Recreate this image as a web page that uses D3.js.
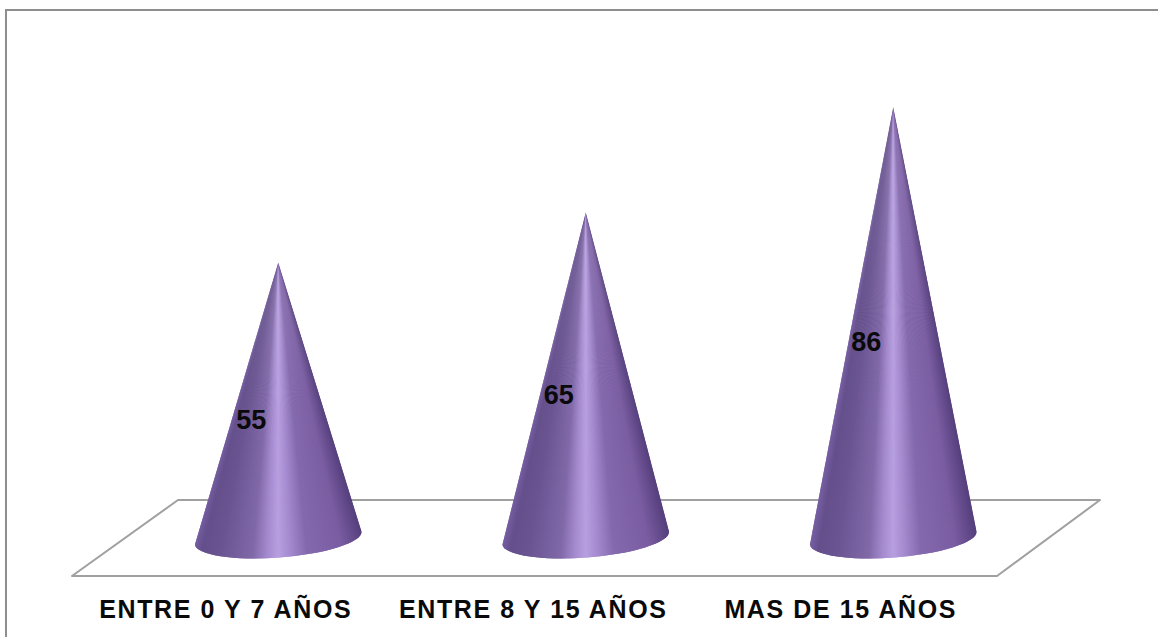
<!DOCTYPE html>
<html lang="es">
<head>
<meta charset="utf-8">
<title>Años</title>
<script src="https://cdn.jsdelivr.net/npm/d3@7/dist/d3.min.js"></script>
<style>
  html, body { margin: 0; padding: 0; background: #fff; }
  svg { display: block; }
  text { font-family: "Liberation Sans", Arial, sans-serif; font-weight: 700; fill: #0a0a0a; }
</style>
</head>
<body>
<svg id="chart" width="1158" height="637"></svg>
<script>
// Chart data
const categories = ["ENTRE 0 Y 7 AÑOS", "ENTRE 8 Y 15 AÑOS", "MAS DE 15 AÑOS"];
const values = [55, 65, 86];

// Shading across the cone, from its left edge to its right edge
const shadeStops = [0, 0.07, 0.18, 0.36, 0.44, 0.5, 0.56, 0.66, 0.86, 1];
const shadeColors = ["#7d63aa", "#64508c", "#6b5592", "#8169a8", "#a58bcf", "#b79fe0", "#a68cd0", "#8469ae", "#7a5da2", "#553f7c"];

const svg = d3.select("#chart");
const width = 1158, height = 637;

const x = d3.scaleBand().domain(categories).range([124.5, 1047]);
const y = d3.scaleLinear().domain([0, 100]).range([538, 36.5]);
const shade = d3.scaleLinear().domain(shadeStops).range(shadeColors);

// Outer frame: only the top and left edges are visible
svg.append("path")
  .attr("d", `M6,${height}V10H${width}`)
  .attr("fill", "none").attr("stroke", "#8e8e8e").attr("stroke-width", 2);

// Perspective floor under the cones
const floor = [[72, 576], [997, 576], [1100, 500], [178, 500]];
svg.append("path")
  .attr("d", d3.line()(floor) + "Z")
  .attr("fill", "#fff").attr("stroke", "#a0a0a0").attr("stroke-width", 2)
  .attr("stroke-linejoin", "round");

// Cone base: a slightly tilted ellipse
const baseRx = 83.5, baseRy = 19.5, tilt = -4.4;
const rad = tilt * Math.PI / 180;
const dx = baseRx * Math.cos(rad), dy = baseRx * Math.sin(rad);
const sliceCount = 160;
const slices = d3.range(sliceCount);

const cones = svg.selectAll("g.cone")
  .data(categories.map((c, i) => ({ c, v: values[i], i })))
  .join("g").attr("class", "cone");

const defs = svg.append("defs");
cones.each(function (d) {
  const cx = x(d.c) + x.bandwidth() / 2;
  const apexY = y(d.v), baseY = y(0);
  const id = "cone-clip-" + d.i;
  const outline = `M${cx},${apexY}L${cx - dx},${baseY - dy}` +
    `A${baseRx},${baseRy} ${tilt} 0 0 ${cx + dx},${baseY + dy}Z`;
  defs.append("clipPath").attr("id", id).append("path").attr("d", outline);

  // Wedges fan out from the apex so the shading narrows towards the tip;
  // each one overlaps the next so no seams show between them
  const reach = 1.25;
  const edge = u => [cx + (u - 0.5) * 2 * dx * reach, apexY + (baseY + dy - apexY) * reach];
  d3.select(this).append("g").attr("clip-path", `url(#${id})`)
    .selectAll("path").data(slices).join("path")
    .attr("d", k => d3.line()([[cx, apexY], edge(k / sliceCount), edge((k + 2) / sliceCount)]) + "Z")
    .attr("fill", k => shade((k + 0.5) / sliceCount));

  // Value label sits left of the axis, around mid-height
  d3.select(this).append("text")
    .attr("x", cx - 27).attr("y", y(d.v / 2) + 19 + 9.5)
    .attr("text-anchor", "middle").attr("font-size", 27)
    .text(d.v);

  // Category label on the front edge of the floor
  d3.select(this).append("text")
    .attr("x", cx - 52.5).attr("y", 618)
    .attr("text-anchor", "middle").attr("font-size", 25)
    .attr("letter-spacing", 1.6)
    .text(d.c);
});
</script>
</body>
</html>
